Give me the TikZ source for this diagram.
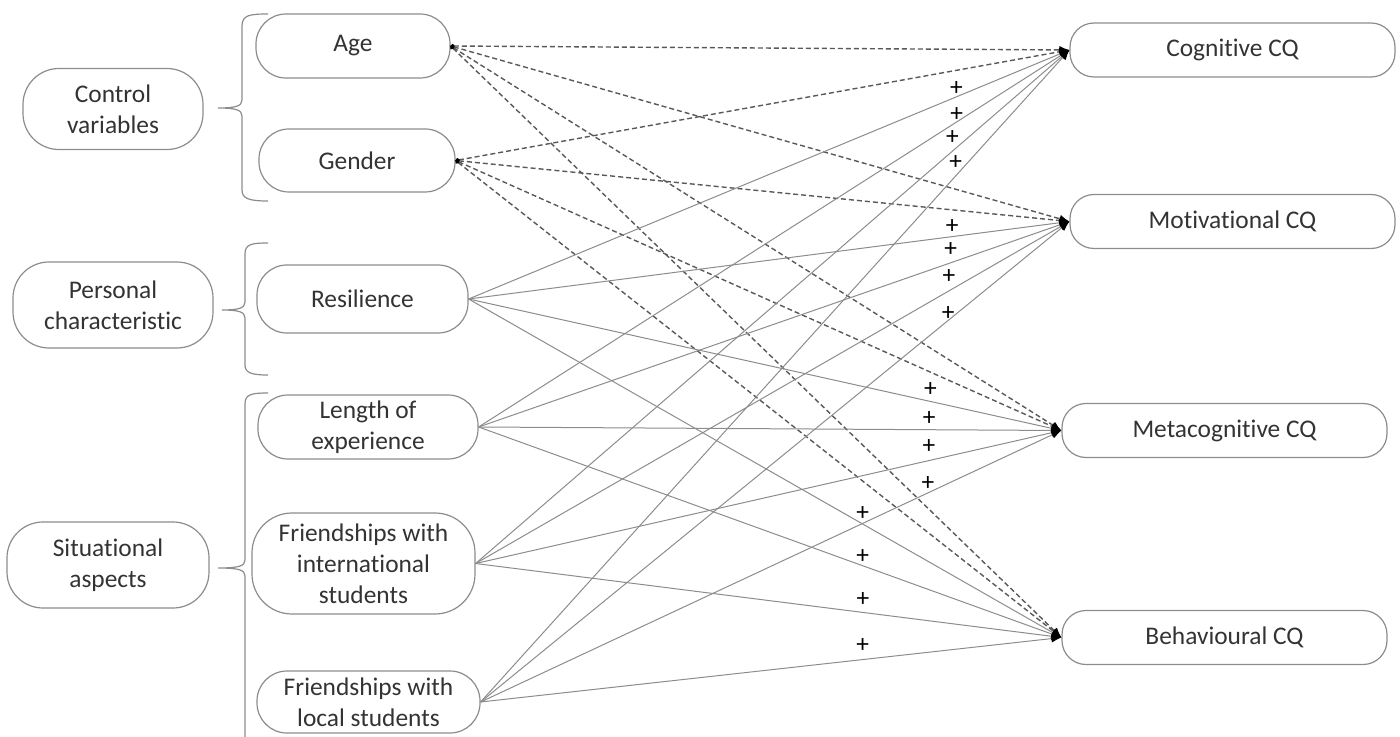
\documentclass[tikz,border=0pt]{standalone}
\usepackage{fontspec}
\setmainfont[Ligatures=NoCommon]{Carlito}
\usetikzlibrary{arrows.meta}

\begin{document}
\begin{tikzpicture}[
    x=0.5pt, y=-0.5pt,
    every node/.style={font=\fontsize{12.7}{15.5}\selectfont, text=black!80},
    box/.style={draw=black!45, line width=0.6pt, rounded corners=15pt, align=center, inner sep=0pt},
    group/.style={box, rounded corners=18pt},
    outcome/.style={box, rounded corners=12pt, minimum width=162.5pt, minimum height=27pt},
    solidline/.style={draw=black!45, line width=0.5pt, arrows={-Latex[color=black, length=5pt, width=4pt]}},
    dashline/.style={draw=black!65, line width=0.7pt, dash pattern=on 2.5pt off 1.5pt, arrows={Circle[color=black, length=2pt]-Latex[color=black, length=5pt, width=4pt]}},
    sign/.style={inner sep=0pt, text=black},
    bracket/.style={draw=black!45, line width=0.6pt}
]
\useasboundingbox (0,0) rectangle (1400,737);

% Groups
\node (ctrl) [group, minimum width=90pt, minimum height=40.5pt] at (113,109) {Control\\variables};
\node (pers) [group, minimum width=100pt, minimum height=43pt] at (113,305) {Personal\\characteristic};
\node (situ) [group, minimum width=101pt, minimum height=43pt] at (108,565) {Situational\\aspects};

% Predictors
\node (age) [box, minimum width=97pt, minimum height=32pt] at (353,46) {Age};
\node (gender) [box, minimum width=98pt, minimum height=31.5pt] at (357,160.5) {Gender};
\node (resil) [box, minimum width=105.5pt, minimum height=34pt] at (362.5,299) {Resilience};
\node (length) [box, minimum width=110pt, minimum height=32pt] at (368,427) {Length of\\experience};
\node (fint) [box, rounded corners=20pt, minimum width=111.5pt, minimum height=50.5pt] at (363.5,563.5) {Friendships with\\international\\students};
\node (floc) [box, minimum width=111.5pt, minimum height=31pt] at (368.5,702) {Friendships with\\local students};

% Outcomes
\node (cog) [outcome] at (1232.5,50) {Cognitive CQ};
\node (mot) [outcome] at (1232.5,221.5) {Motivational CQ};
\node (meta) [outcome] at (1224.5,430.5) {Metacognitive CQ};
\node (beh) [outcome] at (1224.5,637.5) {Behavioural CQ};

% Brackets
\draw[bracket] (268,14) .. controls (250,14) and (242,15) .. (242,26) -- (242,100) .. controls (242,106) and (236,108) .. (218,108) .. controls (236,108) and (242,110) .. (242,116) -- (242,190) .. controls (242,199) and (250,201) .. (268,201);
\draw[bracket] (268,243) .. controls (252,243) and (245,244) .. (245,254) -- (245,302) .. controls (245,308) and (239,310) .. (222,310) .. controls (239,310) and (245,312) .. (245,318) -- (245,365) .. controls (245,373) and (252,375) .. (268,375);
\draw[bracket] (268,393) .. controls (252,393) and (245,394) .. (245,404) -- (245,560) .. controls (245,566) and (239,568) .. (218,568) .. controls (239,568) and (245,570) .. (245,576) -- (245,737);

% Control paths
\foreach \src in {age, gender}
  \foreach \dst in {cog, mot, meta, beh}
    \draw[dashline] (\src.east) -- (\dst.west);

% Hypothesised paths
\foreach \src/\p/\s in {resil/0.812/4pt, length/0.809/3.5pt, fint/0.803/7pt, floc/0.807/6.5pt}
  \draw[solidline] (\src.east) -- (cog.west) node[sign, pos=\p, yshift=\s] {+};
\foreach \src/\p/\s in {resil/0.805/5pt, length/0.799/6.4pt, fint/0.797/7pt, floc/0.794/3.6pt}
  \draw[solidline] (\src.east) -- (mot.west) node[sign, pos=\p, yshift=\s] {+};
\foreach \src/\p/\s in {resil/0.779/6pt, length/0.773/5.7pt, fint/0.774/7.2pt, floc/0.770/4.5pt}
  \draw[solidline] (\src.east) -- (meta.west) node[sign, pos=\p, yshift=\s] {+};
\foreach \src/\p/\s in {resil/0.665/5.5pt, length/0.659/4.4pt, fint/0.661/6.7pt, floc/0.658/6.8pt}
  \draw[solidline] (\src.east) -- (beh.west) node[sign, pos=\p, yshift=\s] {+};

\end{tikzpicture}
\end{document}
